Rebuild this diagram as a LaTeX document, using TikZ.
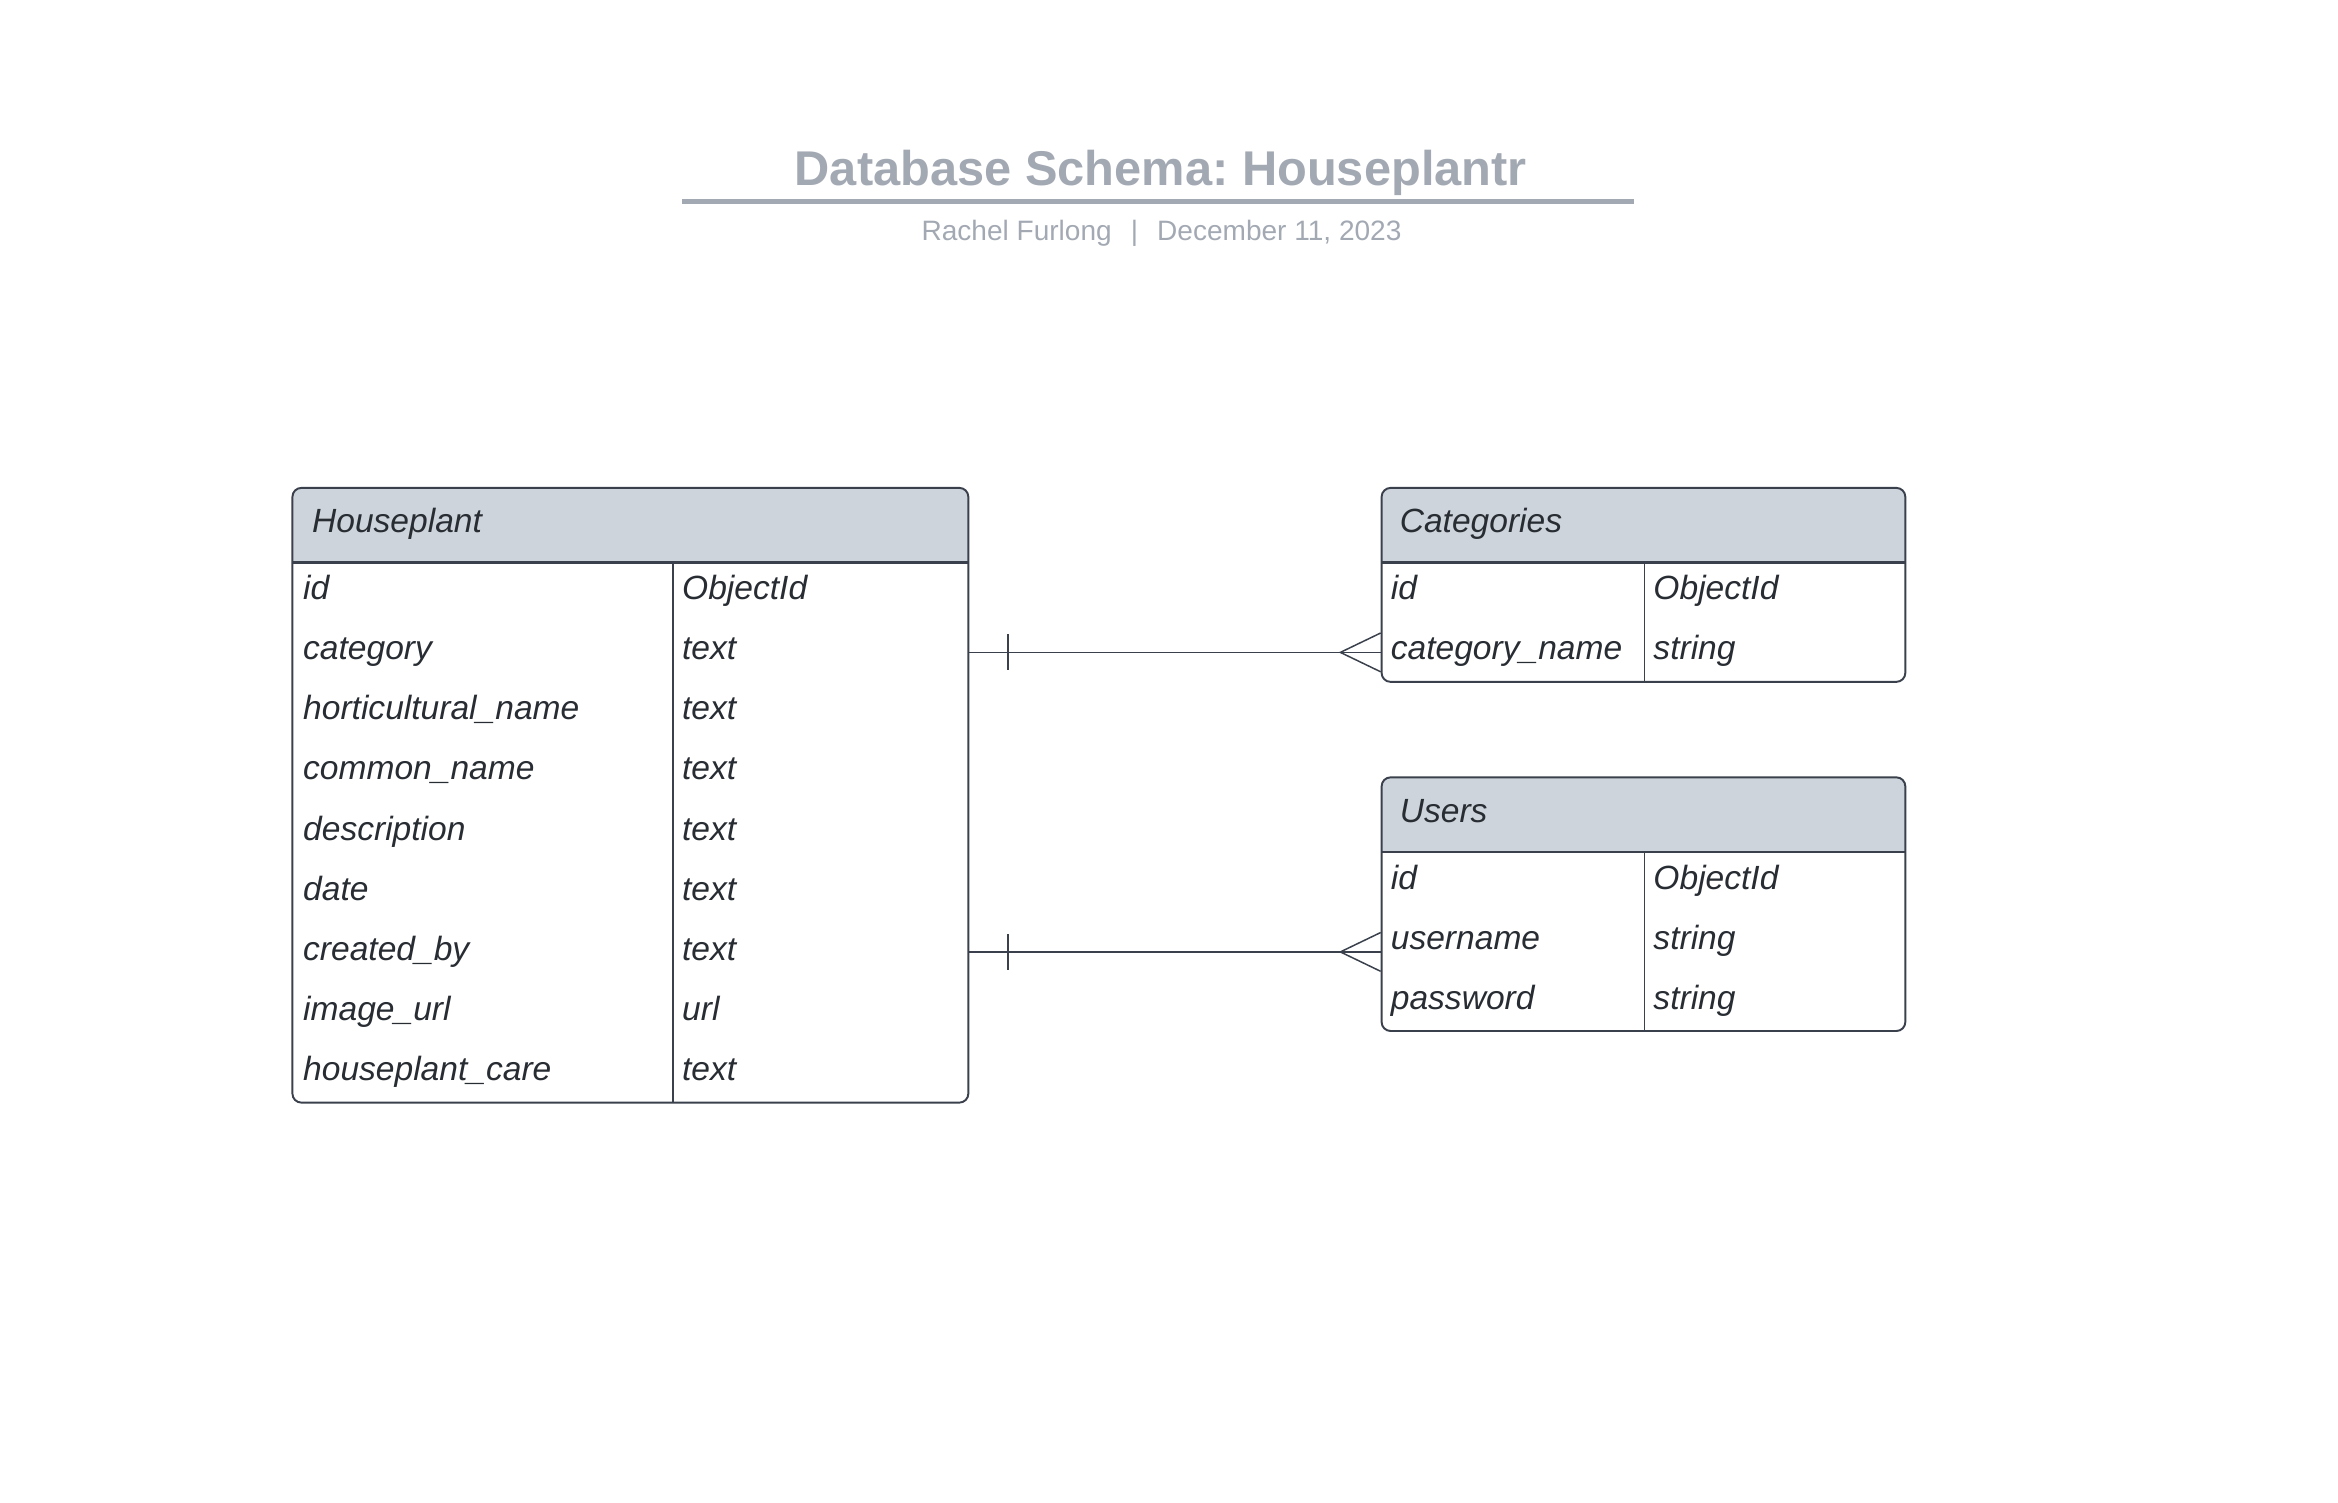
\documentclass[tikz,border=0pt]{standalone}
\usepackage{fontspec}
\setmainfont{Liberation Sans}
\usepackage{tikz}
\usetikzlibrary{positioning, calc}
\frenchspacing
\definecolor{TitleGray}{RGB}{163,169,179}
\definecolor{HeadFill}{RGB}{206,212,219}
\definecolor{InkColor}{RGB}{40,44,51}
\definecolor{LineColor}{RGB}{58,65,76}
\tikzset{
  tablebox/.style={draw=LineColor, line width=1.3pt, rounded corners=6pt, inner sep=0pt},
  field/.style={anchor=west, inner sep=0pt, text height=16pt, text depth=0pt,
    font=\fontsize{22.5}{27}\selectfont\itshape, text=InkColor},
  divider/.style={draw=LineColor, line width=0.9pt},
  headline/.style={draw=LineColor, line width=1.5pt},
  rel/.style={draw=LineColor, line width=1pt}
}

\begin{document}
\begin{tikzpicture}[x=1pt, y=-1pt]
    \useasboundingbox (0,0) rectangle (1567,1007);

    % title block
    \node[anchor=base, text=TitleGray, font=\fontsize{32.7}{38}\selectfont\bfseries] (title) at (778,124) {Database Schema: Houseplantr};
    \draw[TitleGray, line width=3pt] (457,135) -- (1095,135);
    \node[anchor=base, text=TitleGray, font=\fontsize{18.8}{22}\selectfont] (subtitle) at (778.5,161) {Rachel Furlong\hspace{0.68em}|\hspace{0.68em}December 11, 2023};

    % Houseplant
    \begin{scope}
        \clip[rounded corners=6pt] (196,327) rectangle (649,739);
        \fill[HeadFill] (196,327) rectangle (649,377);
    \end{scope}
    \node[tablebox, minimum width=453pt, minimum height=412pt] (hp) at (422.5,533) {};
    \draw[headline] (196,377) -- (649,377);
    \draw[divider] (451,377) -- (451,739);
    \node[field] (hp-head) at (209,349) {Houseplant};
    \foreach \name/\type [count=\i from 0] in {id/ObjectId, category/text, horticultural\_name/text, common\_name/text, description/text, date/text, created\_by/text, image\_url/url, houseplant\_care/text} {
        \node[field] (hp-f\i) at (203,{394+40.25*\i}) {\name};
        \node[field] (hp-t\i) at (457,{394+40.25*\i}) {\type};
    }

    % Categories
    \begin{scope}
        \clip[rounded corners=6pt] (926,327) rectangle (1277,457);
        \fill[HeadFill] (926,327) rectangle (1277,377);
    \end{scope}
    \node[tablebox, minimum width=351pt, minimum height=130pt] (cat) at (1101.5,392) {};
    \draw[headline] (926,377) -- (1277,377);
    \draw[divider] (1102,377) -- (1102,457);
    \node[field] (cat-head) at (938,349) {Categories};
    \foreach \name/\type [count=\i from 0] in {id/ObjectId, category\_name/string} {
        \node[field] (cat-f\i) at (932,{394+40.25*\i}) {\name};
        \node[field] (cat-t\i) at (1108,{394+40.25*\i}) {\type};
    }

    % Users
    \begin{scope}
        \clip[rounded corners=6pt] (926,521) rectangle (1277,691);
        \fill[HeadFill] (926,521) rectangle (1277,571);
    \end{scope}
    \node[tablebox, minimum width=351pt, minimum height=170pt] (us) at (1101.5,606) {};
    \draw[headline] (926,571) -- (1277,571);
    \draw[divider] (1102,571) -- (1102,691);
    \node[field] (us-head) at (938,543) {Users};
    \foreach \name/\type [count=\i from 0] in {id/ObjectId, username/string, password/string} {
        \node[field] (us-f\i) at (932,{588+40.25*\i}) {\name};
        \node[field] (us-t\i) at (1108,{588+40.25*\i}) {\type};
    }

    % relations: one houseplant side, many on the right
    \coordinate (r1s) at ($(hp.east |- hp-f1)+(0,3)$);
    \coordinate (r1e) at ($(cat.west |- hp-f1)+(0,3)$);
    \coordinate (r2s) at ($(hp.east |- hp-f6)+(0,2.5)$);
    \coordinate (r2e) at ($(us.west |- hp-f6)+(0,2.5)$);
    \foreach \s/\e in {r1s/r1e, r2s/r2e} {
        \draw[rel] (\s) -- (\e);
        \draw[rel] ($(\s)+(26,-12)$) -- ($(\s)+(26,12)$);
        \draw[rel] ($(\e)+(0,-13)$) -- ($(\e)+(-27,0)$) -- ($(\e)+(0,13)$);
    }
\end{tikzpicture}
\end{document}
